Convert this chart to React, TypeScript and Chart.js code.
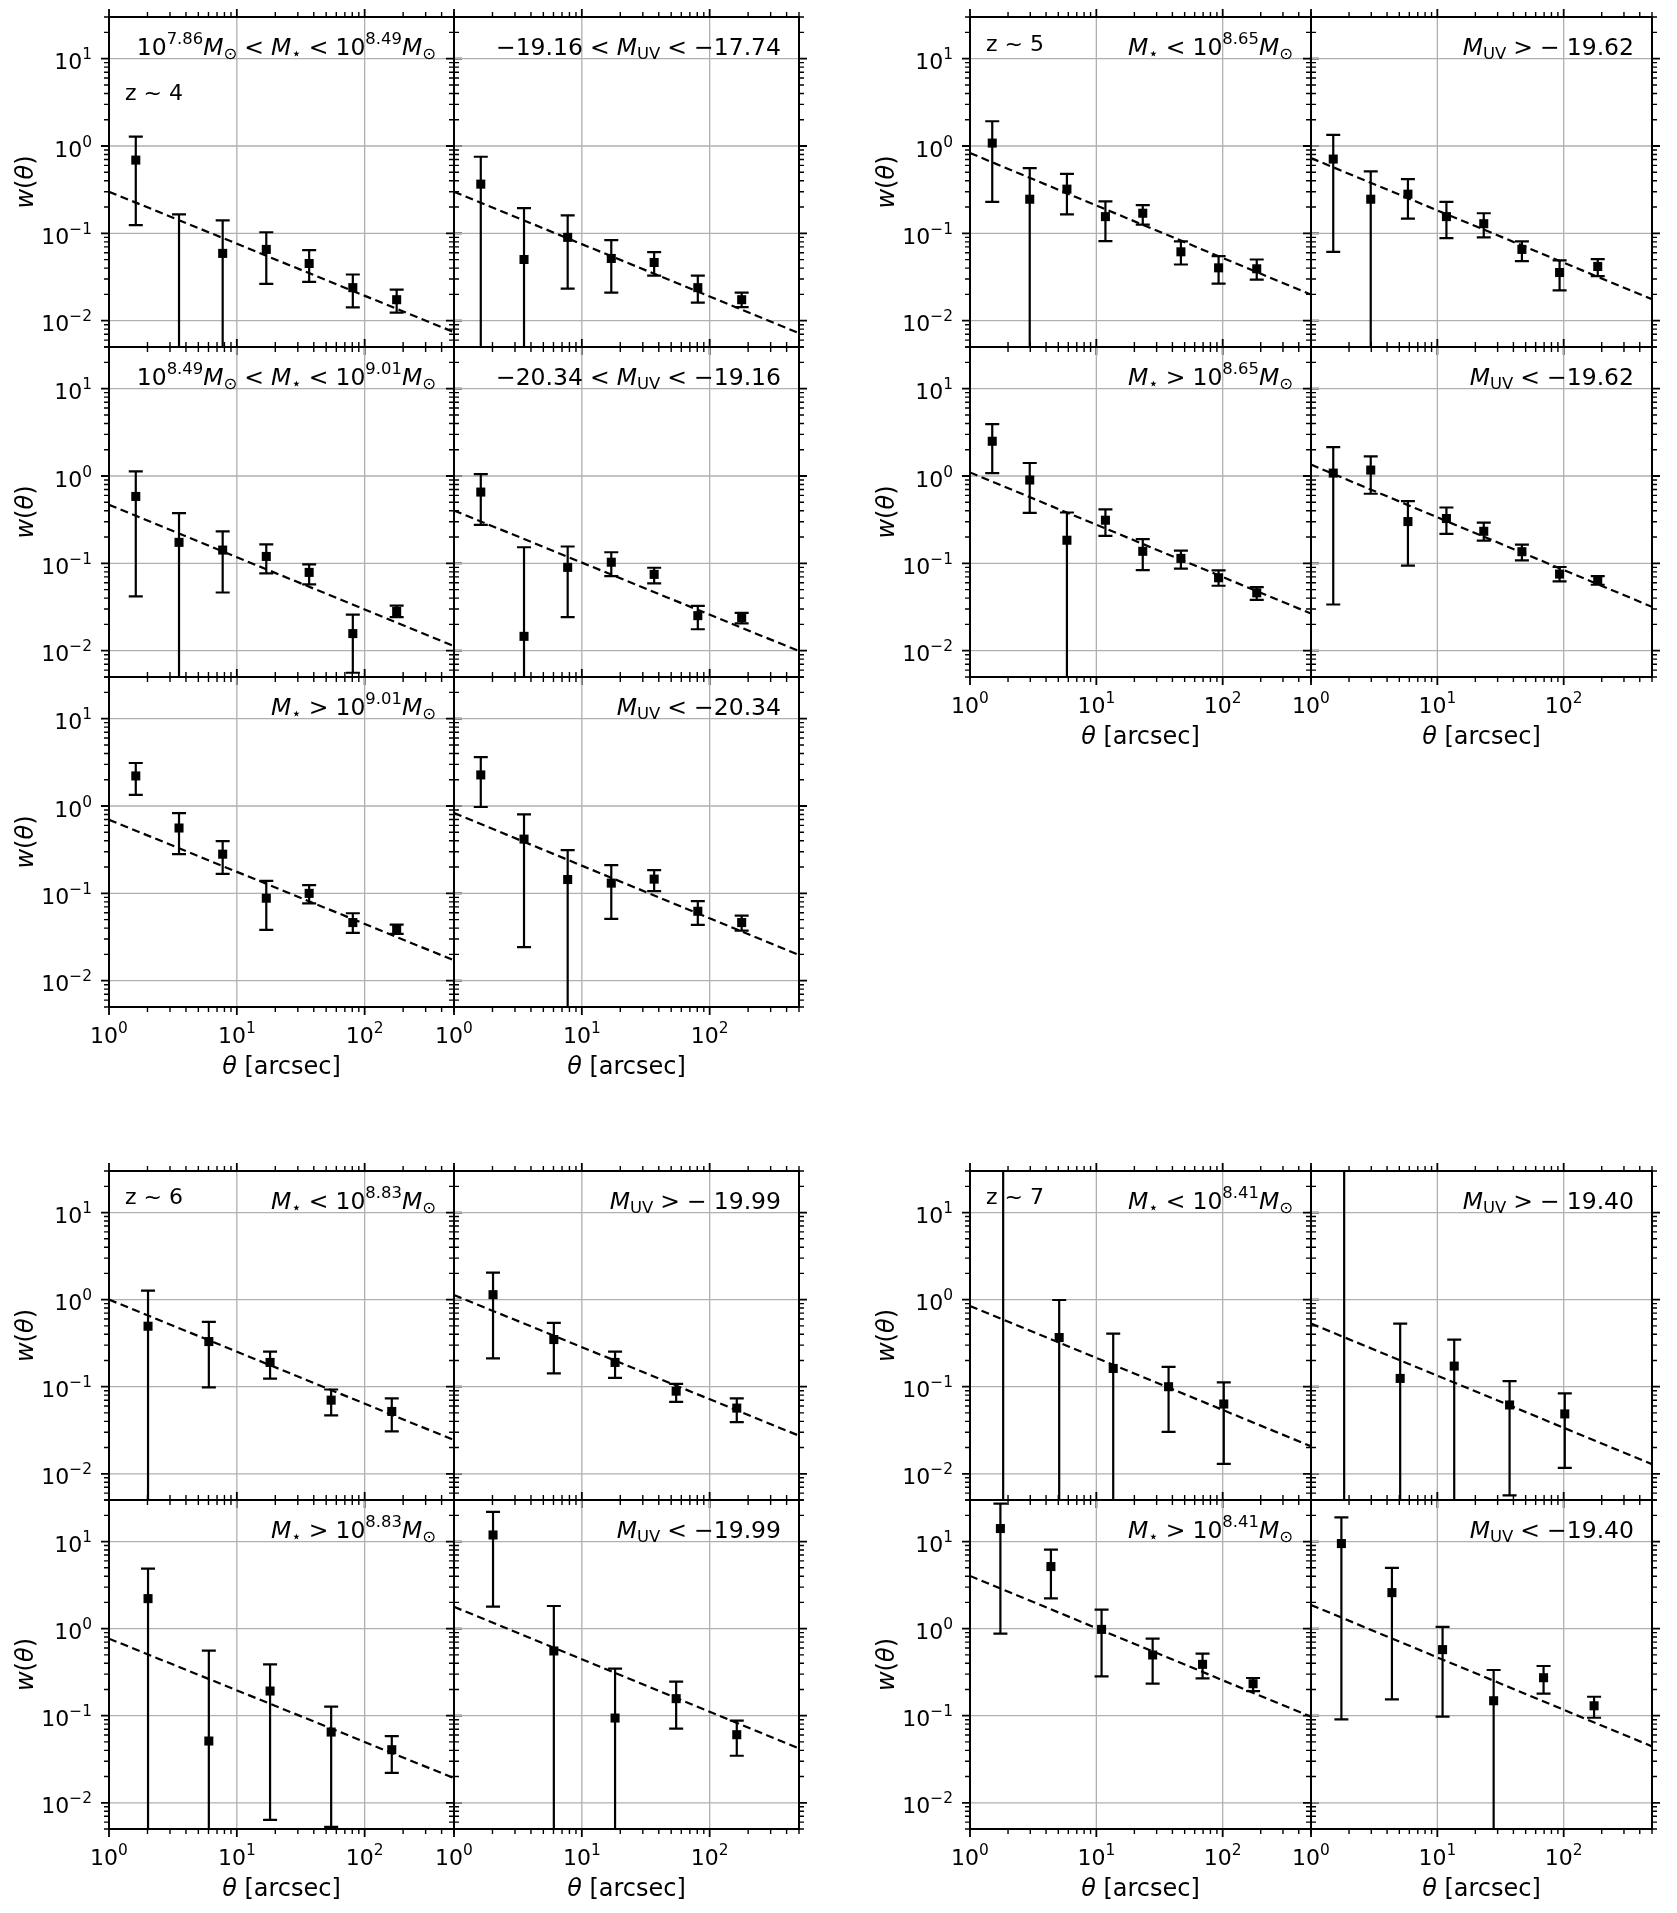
import React, { useEffect, useRef } from "react";
import { Chart, registerables } from "chart.js";

Chart.register(...registerables);

const FONT = "'DejaVu Sans', sans-serif";

// ---------------- axis ticks ----------------
const xTickValues = [1, 10, 100];
const xTickExps = ["0", "1", "2"];
const yTickValues = [0.01, 0.1, 1, 10];
const yTickExps = ["\u22122", "\u22121", "0", "1"];
const xRange = [1, 500];
const yRange = [0.005, 30];

// ---------------- angular bins ----------------
const thetaZ4 = [1.62, 3.53, 7.75, 17.0, 36.8, 80.8, 178];
const thetaZ5 = [1.5, 2.97, 5.85, 11.8, 23.3, 46.7, 92.8, 186];
const thetaZ6 = [2.02, 6.04, 18.2, 54.7, 163];
const thetaZ7a = [1.83, 5.08, 13.6, 37.3, 102];
const thetaZ7b = [1.74, 4.37, 11.0, 27.9, 69.3, 174];

// ---------------- z ~ 4 ----------------
const wZ4m1 = [0.69, null, 0.059, 0.0655, 0.0452, 0.0239, 0.0174];
const hiZ4m1 = [1.28, 0.165, 0.141, 0.103, 0.0643, 0.0338, 0.0227];
const loZ4m1 = [0.124, null, null, 0.0264, 0.0278, 0.0142, 0.0124];
const fitZ4m1 = [0.3, 0.0074];

const wZ4u1 = [0.366, 0.0502, 0.09, 0.0516, 0.0464, 0.0239, 0.0174];
const hiZ4u1 = [0.754, 0.194, 0.161, 0.0838, 0.061, 0.0329, 0.021];
const loZ4u1 = [null, null, 0.0233, 0.021, 0.0329, 0.0161, 0.0143];
const fitZ4u1 = [0.3, 0.0072];

const wZ4m2 = [0.584, 0.174, 0.142, 0.12, 0.0788, 0.0157, 0.0281];
const hiZ4m2 = [1.13, 0.376, 0.233, 0.165, 0.0974, 0.0259, 0.0329];
const loZ4m2 = [0.0418, null, 0.0464, 0.0768, 0.0574, 0.00559, 0.0242];
const fitZ4m2 = [0.468, 0.0113];

const wZ4u2 = [0.655, 0.0146, 0.09, 0.103, 0.0748, 0.0252, 0.0239];
const hiZ4u2 = [1.05, 0.153, 0.156, 0.134, 0.0891, 0.0326, 0.0271];
const loZ4u2 = [0.276, null, 0.0242, 0.0715, 0.0589, 0.0176, 0.0206];
const fitZ4u2 = [0.403, 0.0099];

const wZ4m3 = [2.21, 0.56, 0.281, 0.088, 0.1, 0.0463, 0.0395];
const hiZ4m3 = [3.11, 0.83, 0.396, 0.139, 0.124, 0.0592, 0.0439];
const loZ4m3 = [1.34, 0.281, 0.1675, 0.0381, 0.077, 0.0352, 0.0343];
const fitZ4m3 = [0.697, 0.0171];

const wZ4u3 = [2.27, 0.418, 0.144, 0.131, 0.1455, 0.0624, 0.0463];
const hiZ4u3 = [3.62, 0.802, 0.313, 0.21, 0.1845, 0.0813, 0.0557];
const loZ4u3 = [0.975, 0.0243, null, 0.051, 0.106, 0.0435, 0.0375];
const fitZ4u3 = [0.831, 0.0197];

// ---------------- z ~ 5 ----------------
const wZ5m1 = [1.08, 0.246, 0.321, 0.1555, 0.17, 0.0615, 0.0403, 0.0393];
const hiZ5m1 = [1.92, 0.559, 0.481, 0.233, 0.21, 0.0809, 0.0549, 0.0502];
const loZ5m1 = [0.229, null, 0.165, 0.0816, 0.126, 0.044, 0.0266, 0.0296];
const fitZ5m1 = [0.831, 0.0199];

const wZ5u1 = [0.709, 0.246, 0.281, 0.1555, 0.129, 0.0655, 0.0356, 0.0418];
const hiZ5u1 = [1.34, 0.512, 0.418, 0.229, 0.17, 0.0809, 0.049, 0.0507];
const loZ5u1 = [0.0615, null, 0.1475, 0.0884, 0.09, 0.0481, 0.0223, 0.0324];
const fitZ5u1 = [0.728, 0.0176];

const wZ5m2 = [2.5, 0.9, 0.184, 0.312, 0.1374, 0.114, 0.0684, 0.046];
const hiZ5m2 = [3.93, 1.41, 0.382, 0.414, 0.189, 0.14, 0.0831, 0.0535];
const loZ5m2 = [1.08, 0.379, null, 0.206, 0.0838, 0.0869, 0.0554, 0.0382];
const fitZ5m2 = [1.1, 0.0266];

const wZ5u2 = [1.08, 1.17, 0.301, 0.326, 0.233, 0.136, 0.0754, 0.0643];
const hiZ5u2 = [2.14, 1.68, 0.516, 0.436, 0.293, 0.164, 0.0908, 0.0715];
const loZ5u2 = [0.0338, 0.627, 0.094, 0.217, 0.182, 0.108, 0.0621, 0.0569];
const fitZ5u2 = [1.35, 0.0318];

// ---------------- z ~ 6 ----------------
const wZ6m1 = [0.495, 0.33, 0.19, 0.0701, 0.052];
const hiZ6m1 = [1.27, 0.555, 0.253, 0.0929, 0.0733];
const loZ6m1 = [null, 0.098, 0.124, 0.0468, 0.0307];
const fitZ6m1 = [1.0, 0.0244];

const wZ6u1 = [1.14, 0.348, 0.19, 0.0889, 0.0568];
const hiZ6u1 = [2.04, 0.541, 0.253, 0.108, 0.0733];
const loZ6u1 = [0.211, 0.142, 0.126, 0.0671, 0.0393];
const fitZ6u1 = [1.13, 0.0274];

const wZ6m2 = [2.21, 0.0512, 0.192, 0.0649, 0.0407];
const hiZ6m2 = [4.9, 0.559, 0.389, 0.127, 0.0584];
const loZ6m2 = [null, null, 0.00638, 0.0053, 0.0221];
const fitZ6m2 = [0.767, 0.0192];

const wZ6u2 = [11.9, 0.554, 0.094, 0.157, 0.0605];
const hiZ6u2 = [21.9, 1.82, 0.347, 0.246, 0.0877];
const loZ6u2 = [1.79, null, null, 0.071, 0.0347];
const fitZ6u2 = [1.78, 0.0421];

// ---------------- z ~ 7 ----------------
const wZ7m1 = [null, 0.367, 0.162, 0.1, 0.0633];
const hiZ7m1 = [null, 0.99, 0.408, 0.169, 0.112];
const loZ7m1 = [null, null, null, 0.0303, 0.013];
const fitZ7m1 = [0.846, 0.0207];

const wZ7u1 = [null, 0.1245, 0.1725, 0.0617, 0.0487];
const hiZ7u1 = [null, 0.531, 0.348, 0.116, 0.084];
const loZ7u1 = [null, null, null, 0.00565, 0.0117];
const fitZ7u1 = [0.531, 0.0129];

const wZ7m2 = [14.1, 5.16, 0.98, 0.498, 0.389, 0.233];
const hiZ7m2 = [27.3, 8.09, 1.65, 0.767, 0.516, 0.271];
const loZ7m2 = [0.877, 2.23, 0.283, 0.233, 0.269, 0.192];
const fitZ7m2 = [4.03, 0.0974];

const wZ7u2 = [9.48, 2.59, 0.574, 0.1486, 0.273, 0.13];
const hiZ7u2 = [18.9, 4.98, 1.05, 0.335, 0.372, 0.165];
const loZ7u2 = [0.0908, 0.154, 0.0974, null, 0.179, 0.0948];
const fitZ7u2 = [1.87, 0.0444];

// ---------------- panel labels ----------------
const notesZ4 = [
  "10^{7.86}M_{\u2299} < M_{\u22c6} < 10^{8.49}M_{\u2299}",
  "\u221219.16 < M_{UV} < \u221217.74",
  "10^{8.49}M_{\u2299} < M_{\u22c6} < 10^{9.01}M_{\u2299}",
  "\u221220.34 < M_{UV} < \u221219.16",
  "M_{\u22c6} > 10^{9.01}M_{\u2299}",
  "M_{UV} < \u221220.34",
];
const notesZ5 = [
  "M_{\u22c6} < 10^{8.65}M_{\u2299}",
  "M_{UV} > \u2212 19.62",
  "M_{\u22c6} > 10^{8.65}M_{\u2299}",
  "M_{UV} < \u221219.62",
];
const notesZ6 = [
  "M_{\u22c6} < 10^{8.83}M_{\u2299}",
  "M_{UV} > \u2212 19.99",
  "M_{\u22c6} > 10^{8.83}M_{\u2299}",
  "M_{UV} < \u221219.99",
];
const notesZ7 = [
  "M_{\u22c6} < 10^{8.41}M_{\u2299}",
  "M_{UV} > \u2212 19.40",
  "M_{\u22c6} > 10^{8.41}M_{\u2299}",
  "M_{UV} < \u221219.40",
];
const redshiftLabels = ["z ~ 4", "z ~ 5", "z ~ 6", "z ~ 7"];
const yAxisTitle = "w(\u03b8)";
const xAxisTitle = "\u03b8 [arcsec]";

// ---------------- layout (page pixels) ----------------
const FIG_A = { cols: [109, 454], colW: 345, rows: [17, 347, 677], rowH: 330, zDy: 83 };
const FIG_B = { cols: [970, 1311], colW: 341, rows: [17, 347], rowH: 330, zDy: 34 };
const FIG_C = { cols: [109, 454], colW: 345, rows: [1171, 1500], rowH: 329, zDy: 33 };
const FIG_D = { cols: [970, 1311], colW: 341, rows: [1171, 1500], rowH: 329, zDy: 33 };

type Num = number | null;
type PanelCfg = {
  key: string;
  x: number;
  y: number;
  w: number;
  h: number;
  col: number;
  bottom: boolean;
  theta: number[];
  wv: Num[];
  hi: Num[];
  lo: Num[];
  fit: number[];
  note: string;
  zText?: string;
  zDy?: number;
};

function buildFigure(
  name: string,
  fig: { cols: number[]; colW: number; rows: number[]; rowH: number; zDy: number },
  rows: { theta: number[]; w: Num[][]; hi: Num[][]; lo: Num[][]; fit: number[][] }[],
  notes: string[],
  zText: string
): PanelCfg[] {
  const out: PanelCfg[] = [];
  rows.forEach((r, ri) => {
    for (let c = 0; c < 2; c++) {
      out.push({
        key: `${name}-${ri}-${c}`,
        x: fig.cols[c],
        y: fig.rows[ri],
        w: fig.colW,
        h: fig.rowH,
        col: c,
        bottom: ri === rows.length - 1,
        theta: r.theta,
        wv: r.w[c],
        hi: r.hi[c],
        lo: r.lo[c],
        fit: r.fit[c],
        note: notes[ri * 2 + c],
        zText: ri === 0 && c === 0 ? zText : undefined,
        zDy: fig.zDy,
      });
    }
  });
  return out;
}

const PANELS: PanelCfg[] = [
  ...buildFigure(
    "z4",
    FIG_A,
    [
      { theta: thetaZ4, w: [wZ4m1, wZ4u1], hi: [hiZ4m1, hiZ4u1], lo: [loZ4m1, loZ4u1], fit: [fitZ4m1, fitZ4u1] },
      { theta: thetaZ4, w: [wZ4m2, wZ4u2], hi: [hiZ4m2, hiZ4u2], lo: [loZ4m2, loZ4u2], fit: [fitZ4m2, fitZ4u2] },
      { theta: thetaZ4, w: [wZ4m3, wZ4u3], hi: [hiZ4m3, hiZ4u3], lo: [loZ4m3, loZ4u3], fit: [fitZ4m3, fitZ4u3] },
    ],
    notesZ4,
    redshiftLabels[0]
  ),
  ...buildFigure(
    "z5",
    FIG_B,
    [
      { theta: thetaZ5, w: [wZ5m1, wZ5u1], hi: [hiZ5m1, hiZ5u1], lo: [loZ5m1, loZ5u1], fit: [fitZ5m1, fitZ5u1] },
      { theta: thetaZ5, w: [wZ5m2, wZ5u2], hi: [hiZ5m2, hiZ5u2], lo: [loZ5m2, loZ5u2], fit: [fitZ5m2, fitZ5u2] },
    ],
    notesZ5,
    redshiftLabels[1]
  ),
  ...buildFigure(
    "z6",
    FIG_C,
    [
      { theta: thetaZ6, w: [wZ6m1, wZ6u1], hi: [hiZ6m1, hiZ6u1], lo: [loZ6m1, loZ6u1], fit: [fitZ6m1, fitZ6u1] },
      { theta: thetaZ6, w: [wZ6m2, wZ6u2], hi: [hiZ6m2, hiZ6u2], lo: [loZ6m2, loZ6u2], fit: [fitZ6m2, fitZ6u2] },
    ],
    notesZ6,
    redshiftLabels[2]
  ),
  ...buildFigure(
    "z7",
    FIG_D,
    [
      { theta: thetaZ7a, w: [wZ7m1, wZ7u1], hi: [hiZ7m1, hiZ7u1], lo: [loZ7m1, loZ7u1], fit: [fitZ7m1, fitZ7u1] },
      { theta: thetaZ7b, w: [wZ7m2, wZ7u2], hi: [hiZ7m2, hiZ7u2], lo: [loZ7m2, loZ7u2], fit: [fitZ7m2, fitZ7u2] },
    ],
    notesZ7,
    redshiftLabels[3]
  ),
];

// ---------------- tiny math-text renderer ----------------
type Seg = { t: string; it?: boolean; pos?: number; gap?: boolean };
const ITALIC = "Mw\u03b8";

function parseMath(s: string): Seg[] {
  const out: Seg[] = [];
  let buf = "";
  const flush = () => {
    if (buf) {
      out.push({ t: buf });
      buf = "";
    }
  };
  for (let i = 0; i < s.length; i++) {
    const c = s[i];
    if ((c === "^" || c === "_") && s[i + 1] === "{") {
      flush();
      const end = s.indexOf("}", i + 2);
      out.push({ t: s.slice(i + 2, end), pos: c === "^" ? 1 : -1 });
      i = end;
    } else if (c === " ") {
      flush();
      out.push({ t: " ", gap: true });
    } else if (ITALIC.includes(c)) {
      flush();
      out.push({ t: c, it: true });
    } else {
      buf += c;
    }
  }
  flush();
  return out;
}

function drawRich(
  ctx: CanvasRenderingContext2D,
  segs: Seg[],
  x: number,
  y: number,
  F: number,
  align: "left" | "right" | "center",
  gapEm = 0.3
) {
  const items = segs.map((s) => {
    const size = s.pos ? F * 0.7 : F;
    const font = `${s.it ? "italic " : ""}${size}px ${FONT}`;
    ctx.font = font;
    const w = s.gap ? gapEm * F : ctx.measureText(s.t).width;
    const dy = s.pos === 1 ? -0.45 * F : s.pos === -1 ? 0.17 * F : 0;
    return { s, font, w, dy };
  });
  const total = items.reduce((a, b) => a + b.w, 0);
  let cx = align === "right" ? x - total : align === "center" ? x - total / 2 : x;
  ctx.textAlign = "left";
  ctx.textBaseline = "alphabetic";
  for (const it of items) {
    if (!it.s.gap) {
      ctx.font = it.font;
      ctx.fillText(it.s.t, cx, y + it.dy);
    }
    cx += it.w;
  }
  return total;
}

// ---------------- per-panel decoration plugin ----------------
const TICK_F = 22;
const NOTE_F = 23.5;
const LABEL_F = 24;
const Z_F = 22;

function minorTicks(min: number, max: number): number[] {
  const out: number[] = [];
  for (let e = Math.floor(Math.log10(min)) - 1; e <= Math.ceil(Math.log10(max)); e++) {
    const d = Math.pow(10, e);
    for (let k = 2; k <= 9; k++) {
      const v = k * d;
      if (v >= min * 0.9999 && v <= max * 1.0001) out.push(v);
    }
  }
  return out;
}

function makeDecor(cfg: PanelCfg) {
  const xMinor = minorTicks(xRange[0], xRange[1]);
  const yMinor = minorTicks(yRange[0], yRange[1]);
  return {
    id: "decor_" + cfg.key.replace(/-/g, "_"),
    beforeDatasetsDraw(chart: any) {
      const { ctx, chartArea: a, scales } = chart;
      ctx.save();
      ctx.strokeStyle = "#b0b0b0";
      ctx.lineWidth = 1.3;
      ctx.beginPath();
      for (const v of xTickValues) {
        const p = scales.x.getPixelForValue(v);
        ctx.moveTo(p, a.top);
        ctx.lineTo(p, a.bottom);
      }
      for (const v of yTickValues) {
        const p = scales.y.getPixelForValue(v);
        ctx.moveTo(a.left, p);
        ctx.lineTo(a.right, p);
      }
      ctx.stroke();
      ctx.restore();
    },
    beforeDatasetDraw(chart: any, args: any) {
      if (args.index !== 0) return;
      const { ctx, chartArea: a, scales } = chart;
      ctx.save();
      ctx.beginPath();
      ctx.rect(a.left, a.top, a.right - a.left, a.bottom - a.top);
      ctx.clip();
      ctx.strokeStyle = "#000";
      ctx.lineWidth = 2.2;
      cfg.theta.forEach((t, i) => {
        const px = scales.x.getPixelForValue(t);
        const hi = cfg.hi[i];
        const lo = cfg.lo[i];
        const yh = hi == null ? a.top - 30 : scales.y.getPixelForValue(hi);
        const yl = lo == null ? a.bottom + 30 : scales.y.getPixelForValue(lo);
        ctx.beginPath();
        ctx.moveTo(px, yh);
        ctx.lineTo(px, yl);
        if (hi != null) {
          ctx.moveTo(px - 7, yh);
          ctx.lineTo(px + 7, yh);
        }
        if (lo != null) {
          ctx.moveTo(px - 7, yl);
          ctx.lineTo(px + 7, yl);
        }
        ctx.stroke();
      });
      ctx.restore();
    },
    afterDraw(chart: any) {
      const { ctx, chartArea: a, scales } = chart;
      const xs = scales.x;
      const ys = scales.y;
      ctx.save();
      ctx.fillStyle = "#000";
      ctx.strokeStyle = "#000";

      // ticks (outward, all four sides)
      const tk = (len: number, lw: number, xv: number[], yv: number[]) => {
        ctx.lineWidth = lw;
        ctx.beginPath();
        for (const v of xv) {
          const p = xs.getPixelForValue(v);
          ctx.moveTo(p, a.bottom);
          ctx.lineTo(p, a.bottom + len);
          ctx.moveTo(p, a.top);
          ctx.lineTo(p, a.top - len);
        }
        for (const v of yv) {
          const p = ys.getPixelForValue(v);
          ctx.moveTo(a.left, p);
          ctx.lineTo(a.left - len, p);
          ctx.moveTo(a.right, p);
          ctx.lineTo(a.right + len, p);
        }
        ctx.stroke();
      };
      tk(5, 1.4, xMinor, yMinor);
      tk(8, 1.8, xTickValues, yTickValues);

      // spines
      ctx.lineWidth = 2;
      ctx.strokeRect(a.left, a.top, a.right - a.left, a.bottom - a.top);

      // y tick labels
      if (cfg.col === 0) {
        yTickValues.forEach((v, i) => {
          const p = ys.getPixelForValue(v);
          drawRich(ctx, [{ t: "10" }, { t: yTickExps[i], pos: 1 }], a.left - 17, p + 10.5, TICK_F, "right");
        });
        // y axis title
        ctx.save();
        ctx.translate(a.left - 85, (a.top + a.bottom) / 2);
        ctx.rotate(-Math.PI / 2);
        drawRich(ctx, parseMath(yAxisTitle), 0, LABEL_F * 0.36, LABEL_F, "center", 0.318);
        ctx.restore();
      }
      // x tick labels + title
      if (cfg.bottom) {
        xTickValues.forEach((v, i) => {
          const p = xs.getPixelForValue(v);
          drawRich(ctx, [{ t: "10" }, { t: xTickExps[i], pos: 1 }], p, a.bottom + 36, TICK_F, "center");
        });
        drawRich(ctx, parseMath(xAxisTitle), (a.left + a.right) / 2, a.bottom + 67, LABEL_F, "center", 0.318);
      }
      // annotation
      drawRich(ctx, parseMath(cfg.note), a.right - 18, a.top + 38, NOTE_F, "right");
      if (cfg.zText) {
        ctx.font = `${Z_F}px ${FONT}`;
        ctx.textAlign = "left";
        ctx.textBaseline = "alphabetic";
        ctx.fillText(cfg.zText, a.left + 16, a.top + (cfg.zDy || 33));
      }
      ctx.restore();
    },
  };
}

function Panel({ cfg }: { cfg: PanelCfg }) {
  const ref = useRef<HTMLCanvasElement | null>(null);
  const padL = cfg.col === 0 ? 105 : 32;
  const padR = 12;
  const padT = 12;
  const padB = cfg.bottom ? 90 : 12;
  const W = padL + cfg.w + padR;
  const H = padT + cfg.h + padB;

  useEffect(() => {
    const canvas = ref.current;
    if (!canvas) return;
    const pts: { x: number; y: number }[] = [];
    cfg.theta.forEach((t, i) => {
      const v = cfg.wv[i];
      if (v != null) pts.push({ x: t, y: v });
    });
    const chart = new Chart(canvas, {
      type: "scatter",
      data: {
        datasets: [
          {
            label: "w(theta)",
            data: pts,
            pointStyle: "rect",
            pointRadius: 6.4,
            pointBackgroundColor: "#000",
            pointBorderWidth: 0,
            backgroundColor: "#000",
            borderColor: "#000",
            showLine: false,
          },
          {
            label: "fit",
            data: [
              { x: xRange[0], y: cfg.fit[0] },
              { x: xRange[1], y: cfg.fit[1] },
            ],
            showLine: true,
            borderColor: "#000",
            borderWidth: 2.2,
            borderDash: [8, 4.5],
            pointRadius: 0,
            fill: false,
          },
        ],
      },
      options: {
        responsive: false,
        animation: false,
        devicePixelRatio: 1,
        events: [],
        layout: { padding: { left: padL, right: padR, top: padT, bottom: padB } },
        scales: {
          x: { type: "logarithmic", min: xRange[0], max: xRange[1], display: false },
          y: { type: "logarithmic", min: yRange[0], max: yRange[1], display: false },
        },
        plugins: {
          legend: { display: false },
          tooltip: { enabled: false },
          title: { display: false },
        },
      } as any,
      plugins: [makeDecor(cfg) as any],
    });
    return () => chart.destroy();
  }, []);

  return (
    <canvas
      ref={ref}
      width={W}
      height={H}
      style={{ position: "absolute", left: cfg.x - padL, top: cfg.y - padT, width: W, height: H }}
    />
  );
}

export default function App() {
  return (
    <div style={{ position: "absolute", left: 0, top: 0, width: 1677, height: 1913, background: "#fff" }}>
      {PANELS.map((p) => (
        <Panel key={p.key} cfg={p} />
      ))}
    </div>
  );
}
